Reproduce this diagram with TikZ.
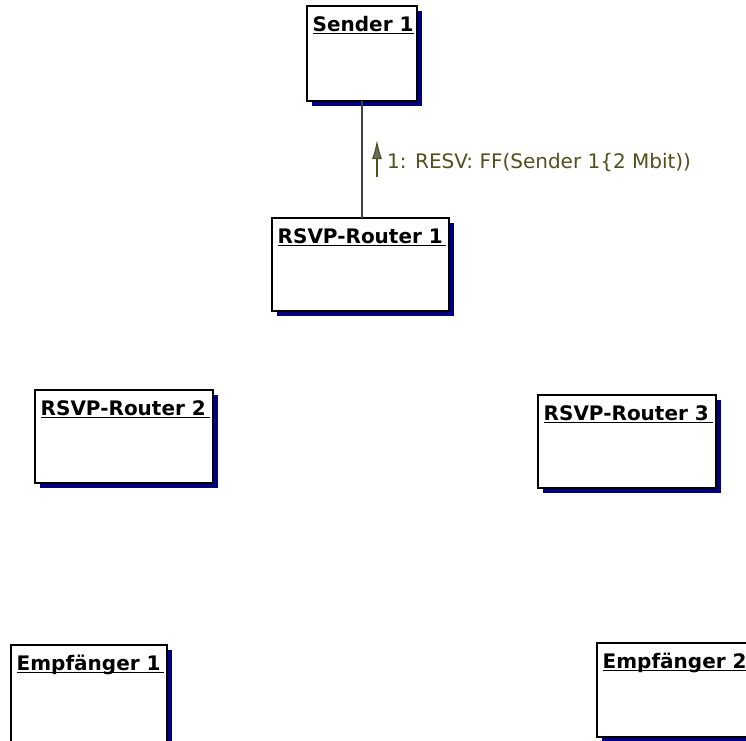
\documentclass[tikz,border=0pt]{standalone}
\usepackage{fontspec}
\setmainfont{DejaVu Sans}
\usetikzlibrary{arrows.meta,shadows}
\definecolor{shadownavy}{RGB}{0,0,128}
\definecolor{msgolive}{RGB}{80,80,30}
\definecolor{linkgray}{RGB}{64,64,64}

\newcommand{\umlobject}[6]{%
  \node[objbox, minimum width=#4pt, minimum height=#5pt] (#1) at (#2,#3) {};
  \node[objtitle] (#1-title) at ([shift={(5.5pt,-25pt)}]#1.north west) {#6};
  \draw[objrule] (#1-title.base west) ++(0,-2.5pt) -- ([shift={(-3.3pt,-27.5pt)}]#1.north east);
}

\begin{document}
\begin{tikzpicture}[
        x=1pt, y=-1pt,
        objbox/.style={draw, line width=1.4pt, fill=white, anchor=north west,
                       inner sep=0pt, outer sep=0pt,
                       general shadow={fill=shadownavy, shadow xshift=4.5pt,
                                       shadow yshift=-4.5pt}},
        objtitle/.style={anchor=base west, inner sep=0pt,
                         font=\bfseries\fontsize{20}{24}\selectfont},
        objrule/.style={line width=1.3pt},
        link/.style={draw=linkgray, line width=1.3pt},
        msg/.style={anchor=base west, inner sep=0pt, text=msgolive,
                    font=\fontsize{20}{24}\selectfont},
        msgarrow/.style={draw=msgolive, line width=1.2pt,
                         -{Latex[length=19pt, width=10pt, fill=gray!85!black]}}
    ]
        \useasboundingbox (0,0) rectangle (746,740);

        \umlobject{sender}{307}{6}{110}{95}{Sender 1}
        \umlobject{router1}{272}{218}{177}{93}{RSVP-Router 1}
        \umlobject{router2}{35}{390}{178}{93}{RSVP-Router 2}
        \umlobject{router3}{538}{395}{178}{93}{RSVP-Router 3}
        \umlobject{empf1}{11}{645}{156}{100}{Empfänger 1}
        \umlobject{empf2}{597}{643}{156}{94}{Empfänger 2}

        \draw[link] (sender.south) -- (sender.south |- router1.north);

        \node[msg] (resv) at (387,168) {1: RESV: FF(Sender 1\{2 Mbit))};
        \coordinate (resvtail) at (377,177);
        \coordinate (resvtip) at (377,140);
        \draw[msgarrow] (resvtail) -- (resvtip);
    \end{tikzpicture}
\end{document}
